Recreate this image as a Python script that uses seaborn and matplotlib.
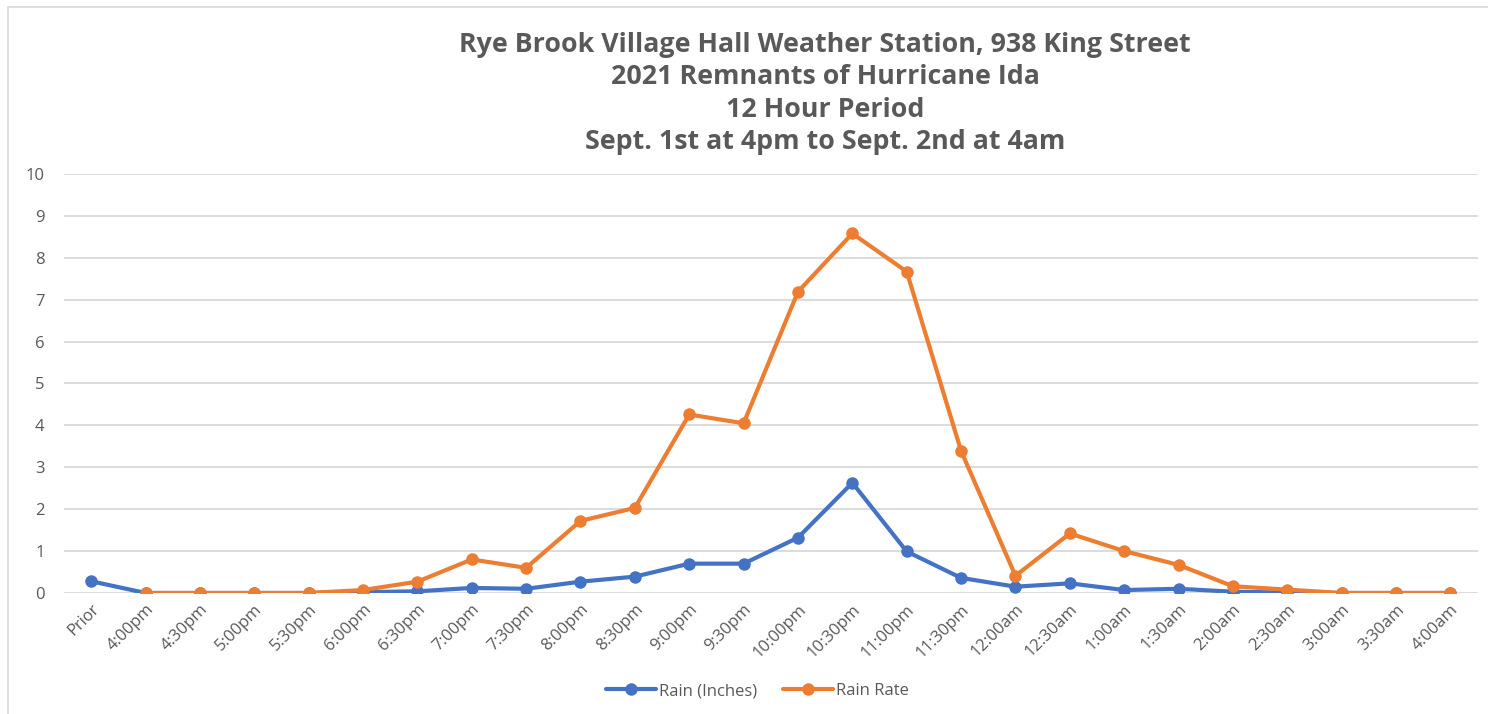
import numpy as np
import pandas as pd
import matplotlib
matplotlib.use("Agg")
import matplotlib.pyplot as plt
import seaborn as sns
from matplotlib.patches import Rectangle

# Data
timeLabels = [
    "Prior", "4:00pm", "4:30pm", "5:00pm", "5:30pm", "6:00pm", "6:30pm",
    "7:00pm", "7:30pm", "8:00pm", "8:30pm", "9:00pm", "9:30pm", "10:00pm",
    "10:30pm", "11:00pm", "11:30pm", "12:00am", "12:30am", "1:00am",
    "1:30am", "2:00am", "2:30am", "3:00am", "3:30am", "4:00am",
]
rainInches = [
    0.28, 0.0, 0.0, 0.0, 0.0, 0.02, 0.04, 0.12, 0.10, 0.27, 0.39, 0.70,
    0.70, 1.32, 2.63, 0.99, 0.36, 0.15, 0.23, 0.07, 0.10, 0.03, 0.01,
    0.0, 0.0, 0.0,
]
rainRate = [
    np.nan, 0.0, 0.0, 0.0, 0.0, 0.07, 0.27, 0.80, 0.60, 1.72, 2.03, 4.26,
    4.05, 7.19, 8.58, 7.67, 3.39, 0.41, 1.42, 1.00, 0.67, 0.16, 0.08,
    0.0, 0.0, 0.0,
]

titleLines = [
    "Rye Brook Village Hall Weather Station, 938 King Street",
    "2021 Remnants of Hurricane Ida",
    "12 Hour Period",
    "Sept. 1st at 4pm to Sept. 2nd at 4am",
]

sns.set_style("white")
plt.rcParams["font.family"] = ["Open Sans", "DejaVu Sans"]

blue = "#4472C4"
orange = "#ED7D31"
gray = "#595959"

df = pd.DataFrame({
    "pos": np.arange(len(timeLabels)),
    "Rain (Inches)": rainInches,
    "Rain Rate": rainRate,
})

fig = plt.figure(figsize=(14.88, 7.14), dpi=100)
ax = fig.add_axes([0.043, 0.1695, 0.950, 0.5868])

# chart border
fig.patches.append(Rectangle((8 / 1488, -0.1), 1.2, 1 - 7 / 714 + 0.1,
                             transform=fig.transFigure, fill=False,
                             edgecolor="#d9d9d9", linewidth=1.2))

sns.lineplot(data=df, x="pos", y="Rain (Inches)", ax=ax, color=blue,
             marker="o", markersize=9, markeredgewidth=0, linewidth=3.0,
             label="Rain (Inches)", errorbar=None, sort=False)
sns.lineplot(data=df, x="pos", y="Rain Rate", ax=ax, color=orange,
             marker="o", markersize=9, markeredgewidth=0, linewidth=3.0,
             label="Rain Rate", errorbar=None, sort=False)

ax.set_xlim(-0.5, len(timeLabels) - 0.5)
ax.set_ylim(0, 10)
ax.set_yticks(range(0, 11))
ax.set_xticks(df["pos"])
ax.set_xticklabels(timeLabels, rotation=45, ha="right", rotation_mode="anchor")
ax.tick_params(axis="x", colors=gray, labelsize=12, length=0, pad=6)
ax.tick_params(axis="y", colors=gray, labelsize=12, length=0, pad=14)
ax.set_xlabel("")
ax.set_ylabel("")
ax.grid(axis="y", color="#d9d9d9", linewidth=1.3)
ax.set_axisbelow(True)
for s in ax.spines.values():
    s.set_visible(False)

ax.get_legend().remove()
handles, labels = ax.get_legend_handles_labels()
fig.legend(handles, labels, loc="lower center", bbox_to_anchor=(0.509, 0.0),
           ncol=2, frameon=False, fontsize=12, labelcolor=gray,
           handlelength=3.0, columnspacing=1.5, handletextpad=0.2)

for i, line in enumerate(titleLines):
    fig.text(825 / 1488, 1 - (45 + 32.4 * i) / 714, line, ha="center",
             va="center", fontsize=19.3, fontweight="bold", color=gray)

fig.savefig("out.png", dpi=100)
plt.close(fig)
